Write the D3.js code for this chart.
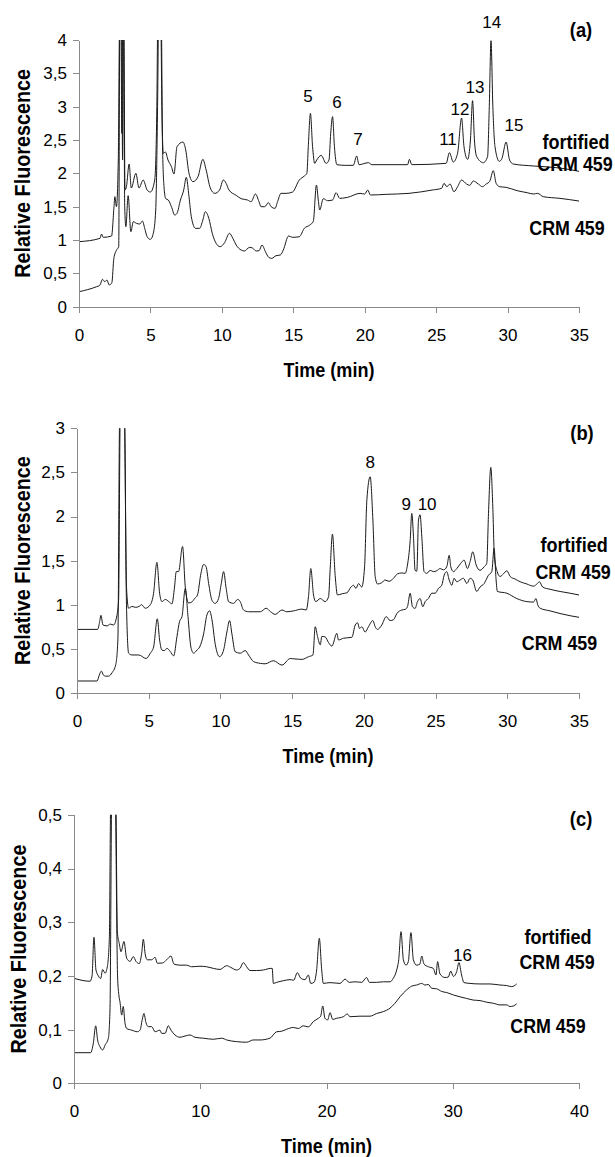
<!DOCTYPE html>
<html>
<head>
<meta charset="utf-8">
<script src="https://cdn.jsdelivr.net/npm/d3@7/dist/d3.min.js"></script>
<style>
  body { margin: 0; background: #fff; }
  svg { display: block; font-family: Arial, "Liberation Sans", sans-serif; }
  .axis path, .axis line { stroke: #8a8a8a; stroke-width: 1; shape-rendering: crispEdges; }
  .axis text { font-size: 17px; fill: #000; }
  .trace { fill: none; stroke: #1a1a1a; stroke-width: 1; }
  .title { font-size: 20.5px; font-weight: bold; }
  .ytitle { font-size: 22px; font-weight: bold; }
  .tag { font-size: 20px; font-weight: bold; }
  .fort { font-size: 20.5px; font-weight: bold; }
  .crm { font-size: 20.5px; font-weight: bold; }
  .peak { font-size: 17px; }
</style>
</head>
<body>
<svg id="myGraph" width="615" height="1157"></svg>
<script>
// tick labels
var timeTicks35 = [0, 5, 10, 15, 20, 25, 30, 35];
var timeTicks40 = [0, 10, 20, 30, 40];
var ticksA = [0, 0.5, 1, 1.5, 2, 2.5, 3, 3.5, 4];
var ticksB = [0, 0.5, 1, 1.5, 2, 2.5, 3];
var ticksC = [0, 0.1, 0.2, 0.3, 0.4, 0.5];

// series names
var seriesNames = ["fortified", "CRM 459"];

// (a) [time, fluorescence]
var aFortified = [[0,0.975],[1.47,1.025],[1.58,1.09],[1.7,1.04],[2.28,1.06],[2.45,1.5],[2.51,1.65],[2.62,1.5],[2.75,2.2],[2.85,4.4],[2.93,4.4],[3.0,2.6],[3.06,4.4],[3.13,4.4],[3.22,1.75],[3.32,1.8],[3.51,2.14],[3.66,1.78],[3.98,2.0],[4.2,1.78],[4.49,1.9],[4.77,1.75],[5.0,1.72],[5.3,1.9],[5.45,3.0],[5.52,4.4],[5.72,4.4],[5.8,3.0],[5.9,2.3],[6.05,2.32],[6.23,2.2],[6.47,2.1],[6.65,1.99],[6.86,2.4],[7.28,2.47],[7.47,2.35],[7.7,2.0],[7.98,1.875],[8.33,1.95],[8.67,2.21],[8.9,2.05],[9.19,1.78],[9.5,1.7],[9.84,1.75],[10.1,1.9],[10.3,1.85],[10.5,1.75],[11.0,1.67],[11.35,1.62],[11.8,1.6],[12.05,1.575],[12.35,1.69],[12.6,1.575],[12.74,1.5],[13.0,1.5],[13.26,1.56],[13.45,1.5],[13.72,1.475],[13.9,1.575],[14.14,1.7],[14.5,1.7],[14.95,1.72],[15.42,1.9],[15.77,1.96],[15.95,2.0],[16.05,2.4],[16.2,2.9],[16.35,2.4],[16.5,2.15],[16.64,2.2],[16.95,2.27],[17.3,2.15],[17.5,2.2],[17.62,2.6],[17.75,2.85],[17.88,2.4],[18.05,2.13],[18.67,2.12],[19.2,2.12],[19.44,2.26],[19.6,2.13],[20.26,2.16],[20.5,2.13],[23.0,2.13],[23.13,2.21],[23.3,2.13],[25.7,2.15],[25.93,2.31],[26.2,2.17],[26.5,2.3],[26.78,2.83],[26.95,2.4],[27.2,2.21],[27.4,2.5],[27.55,3.09],[27.68,2.5],[27.84,2.25],[28.3,2.16],[28.6,2.25],[28.72,3.0],[28.84,3.99],[28.97,3.0],[29.12,2.4],[29.42,2.18],[29.6,2.22],[29.9,2.47],[30.14,2.2],[30.4,2.14],[31.85,2.11],[33.67,2.08],[35,2.03]];
var aCrm = [[0,0.225],[1.23,0.3],[1.45,0.32],[1.65,0.41],[1.8,0.375],[1.95,0.4],[2.12,0.325],[2.3,0.36],[2.44,0.725],[2.63,0.85],[2.78,0.9],[2.86,4.4],[2.98,4.4],[3.05,2.2],[3.12,4.4],[3.2,1.5],[3.28,1.2],[3.44,1.665],[3.63,1.125],[3.8,1.275],[4.02,1.25],[4.25,1.24],[4.44,1.285],[4.6,1.175],[4.77,1.05],[5.0,1.01],[5.2,1.1],[5.37,1.45],[5.5,3.0],[5.58,4.4],[5.76,4.4],[5.84,2.5],[5.95,1.8],[6.07,1.62],[6.25,1.6],[6.47,1.5],[6.7,1.375],[6.86,1.4],[7.1,1.6],[7.33,1.75],[7.51,1.94],[7.7,1.65],[7.86,1.35],[8.16,1.175],[8.44,1.175],[8.67,1.3],[8.84,1.425],[9.09,1.325],[9.33,1.1],[9.6,0.95],[9.88,0.9],[10.19,0.96],[10.53,1.1],[10.77,1.025],[11.0,0.925],[11.35,0.85],[11.58,0.835],[11.93,0.89],[12.15,0.88],[12.4,0.835],[12.6,0.84],[12.81,0.925],[13.05,0.825],[13.28,0.74],[13.5,0.725],[13.79,0.765],[14.09,0.775],[14.3,0.85],[14.67,1.06],[14.95,1.04],[15.42,1.05],[15.77,1.175],[16.16,1.225],[16.4,1.28],[16.62,1.825],[16.75,1.6],[16.85,1.45],[17.1,1.62],[17.4,1.59],[17.75,1.6],[18.0,1.71],[18.25,1.625],[18.8,1.64],[19.67,1.7],[20.0,1.69],[20.21,1.75],[20.4,1.675],[21.5,1.685],[23.1,1.7],[24.73,1.75],[25.38,1.775],[25.55,1.85],[25.75,1.8],[25.97,1.84],[26.25,1.725],[26.5,1.8],[26.78,1.9],[27.13,1.84],[27.35,1.82],[27.6,1.885],[27.95,1.84],[28.25,1.8],[28.5,1.84],[28.75,1.88],[29.0,2.04],[29.2,1.85],[29.44,1.8],[29.9,1.79],[30.67,1.74],[31.37,1.71],[31.8,1.69],[32.1,1.7],[32.5,1.65],[33.67,1.625],[35,1.585]];

// (b)
var bFortified = [[0,0.72],[1.44,0.72],[1.57,0.8],[1.67,0.88],[1.81,0.77],[2.1,0.76],[2.32,0.78],[2.55,0.77],[2.74,0.845],[2.9,1.05],[3.02,3.2],[3.3,3.2],[3.45,1.2],[3.6,0.96],[3.83,0.98],[4.1,0.97],[4.37,0.985],[4.5,1.0],[4.76,0.96],[5.11,1.0],[5.34,1.13],[5.57,1.48],[5.76,1.13],[5.92,1.035],[6.16,1.06],[6.4,1.035],[6.62,1.01],[6.8,1.2],[6.92,1.375],[7.08,1.375],[7.36,1.66],[7.55,1.2],[7.78,1.02],[8.0,1.03],[8.2,1.07],[8.4,1.11],[8.64,1.355],[8.83,1.457],[9.0,1.43],[9.18,1.24],[9.41,1.05],[9.64,1.015],[9.87,1.07],[10.06,1.24],[10.22,1.375],[10.4,1.185],[10.57,1.035],[10.92,1.015],[11.2,1.06],[11.38,1.035],[11.61,0.94],[11.96,0.92],[12.78,0.92],[13.19,0.96],[13.5,0.92],[13.82,0.89],[14.29,0.94],[14.63,0.92],[15.1,0.93],[15.68,0.95],[15.98,0.94],[16.14,1.09],[16.3,1.41],[16.49,1.11],[16.65,1.035],[16.96,1.07],[17.3,1.035],[17.54,1.09],[17.65,1.4],[17.81,1.8],[18.0,1.33],[18.16,1.11],[18.5,1.125],[18.82,1.135],[19.1,1.2],[19.28,1.22],[19.45,1.185],[19.63,1.24],[19.85,1.2],[20.05,1.43],[20.21,2.19],[20.44,2.45],[20.63,1.96],[20.79,1.32],[20.95,1.235],[21.25,1.25],[21.48,1.28],[21.75,1.265],[22.07,1.3],[22.35,1.35],[22.65,1.36],[22.88,1.355],[23.04,1.45],[23.23,1.73],[23.34,2.035],[23.46,1.77],[23.57,1.39],[23.69,1.38],[23.81,1.96],[23.92,2.02],[24.04,1.77],[24.2,1.375],[24.39,1.355],[24.62,1.39],[24.85,1.375],[25.08,1.385],[25.32,1.41],[25.55,1.395],[25.78,1.43],[25.95,1.56],[26.06,1.43],[26.25,1.375],[26.48,1.41],[26.76,1.47],[26.99,1.505],[27.22,1.41],[27.41,1.49],[27.59,1.6],[27.83,1.45],[28.1,1.39],[28.39,1.43],[28.57,1.47],[28.69,2.035],[28.85,2.557],[28.99,2.11],[29.1,1.545],[29.27,1.39],[29.5,1.32],[29.73,1.35],[29.97,1.385],[30.2,1.32],[30.55,1.29],[30.9,1.26],[31.36,1.235],[31.83,1.21],[32.1,1.24],[32.24,1.26],[32.47,1.2],[32.98,1.175],[33.68,1.15],[34.38,1.13],[35,1.11]];
var bCrm = [[0,0.135],[1.4,0.135],[1.55,0.2],[1.7,0.247],[1.85,0.2],[2.0,0.19],[2.2,0.19],[2.45,0.23],[2.7,0.32],[2.85,0.6],[2.98,3.2],[3.3,3.2],[3.45,1.0],[3.6,0.45],[3.83,0.43],[4.3,0.43],[4.83,0.39],[5.11,0.45],[5.34,0.52],[5.6,0.84],[5.76,0.6],[5.92,0.485],[6.1,0.48],[6.27,0.505],[6.5,0.47],[6.74,0.42],[6.97,0.64],[7.15,0.81],[7.32,0.865],[7.55,1.185],[7.74,0.865],[7.94,0.52],[8.13,0.45],[8.36,0.485],[8.55,0.52],[8.83,0.67],[9.06,0.885],[9.25,0.93],[9.41,0.83],[9.64,0.55],[9.94,0.41],[10.22,0.485],[10.45,0.69],[10.64,0.82],[10.8,0.67],[11.03,0.467],[11.38,0.45],[11.73,0.48],[11.96,0.43],[12.31,0.355],[12.78,0.335],[13.12,0.33],[13.7,0.365],[14.29,0.315],[14.87,0.39],[15.2,0.385],[15.68,0.38],[16.14,0.41],[16.45,0.43],[16.61,0.75],[16.77,0.64],[16.96,0.545],[17.07,0.64],[17.3,0.635],[17.54,0.57],[17.77,0.53],[18.12,0.675],[18.23,0.6],[18.58,0.62],[19.16,0.63],[19.4,0.77],[19.56,0.795],[19.7,0.73],[19.86,0.75],[20.09,0.69],[20.32,0.75],[20.63,0.82],[20.79,0.75],[20.95,0.72],[21.25,0.77],[21.56,0.865],[21.83,0.82],[22.07,0.83],[22.3,0.9],[22.65,0.94],[22.88,0.947],[23.04,0.977],[23.23,1.13],[23.39,0.977],[23.57,0.958],[23.74,1.035],[23.92,1.07],[24.11,0.977],[24.27,1.035],[24.5,1.07],[24.74,1.13],[24.97,1.13],[25.2,1.185],[25.43,1.22],[25.6,1.335],[25.78,1.375],[25.95,1.28],[26.13,1.22],[26.29,1.3],[26.48,1.26],[26.71,1.28],[26.94,1.3],[27.18,1.24],[27.41,1.3],[27.59,1.28],[27.87,1.15],[28.1,1.2],[28.39,1.24],[28.69,1.335],[28.92,1.375],[29.08,1.64],[29.22,1.28],[29.31,1.15],[29.97,1.13],[30.66,1.07],[31.36,1.035],[31.83,1.03],[32.0,1.07],[32.12,1.0],[32.29,0.96],[32.98,0.93],[33.68,0.9],[34.38,0.875],[35,0.857]];

// (c)
var cFortified = [[0,0.1955],[1.27,0.19],[1.43,0.2],[1.58,0.272],[1.74,0.211],[1.93,0.2],[2.11,0.195],[2.27,0.212],[2.46,0.205],[2.64,0.217],[2.8,0.27],[2.92,0.55],[3.3,0.55],[3.43,0.282],[3.59,0.26],[3.72,0.245],[3.96,0.264],[4.17,0.233],[4.44,0.227],[4.7,0.236],[4.91,0.227],[5.17,0.223],[5.36,0.242],[5.49,0.268],[5.65,0.239],[5.81,0.23],[6.15,0.23],[6.42,0.2346],[6.6,0.2235],[7.0,0.224],[7.34,0.23],[7.68,0.237],[7.92,0.222],[8.4,0.22],[8.92,0.22],[9.32,0.217],[9.98,0.218],[10.51,0.217],[11.04,0.214],[11.56,0.212],[12.09,0.219],[12.4,0.216],[12.88,0.211],[13.15,0.214],[13.41,0.2247],[13.68,0.217],[13.94,0.21],[14.47,0.21],[15.0,0.211],[15.58,0.214],[15.7,0.214],[15.79,0.186],[16.05,0.188],[16.58,0.191],[17.11,0.193],[17.4,0.192],[17.69,0.206],[17.95,0.196],[18.3,0.193],[18.56,0.2017],[18.75,0.186],[19.01,0.188],[19.22,0.211],[19.43,0.27],[19.62,0.211],[19.75,0.186],[20.28,0.1875],[21.07,0.186],[21.47,0.194],[21.8,0.188],[22.26,0.189],[22.79,0.188],[23.18,0.197],[23.39,0.188],[23.97,0.188],[24.5,0.189],[25.03,0.189],[25.29,0.1955],[25.56,0.211],[25.72,0.23],[25.9,0.2824],[26.09,0.23],[26.3,0.22],[26.48,0.2266],[26.69,0.2806],[26.88,0.23],[27.14,0.22],[27.4,0.222],[27.54,0.237],[27.72,0.222],[28.07,0.217],[28.46,0.214],[28.67,0.2017],[28.8,0.2266],[28.99,0.2036],[29.39,0.197],[29.65,0.198],[29.84,0.209],[30.05,0.199],[30.31,0.208],[30.49,0.2247],[30.7,0.2017],[30.89,0.1875],[31.37,0.186],[32.16,0.185],[32.96,0.185],[33.74,0.183],[34.27,0.182],[34.67,0.18],[35.06,0.185]];
var cCrm = [[0,0.057],[1.32,0.057],[1.53,0.0745],[1.72,0.107],[1.87,0.0807],[2.06,0.068],[2.27,0.062],[2.46,0.071],[2.72,0.084],[2.85,0.1366],[3.0,0.55],[3.25,0.55],[3.45,0.2],[3.55,0.165],[3.64,0.152],[3.78,0.127],[3.9,0.143],[4.04,0.112],[4.17,0.102],[4.57,0.099],[5.02,0.096],[5.23,0.099],[5.41,0.119],[5.54,0.13],[5.7,0.113],[5.89,0.1055],[6.15,0.1055],[6.42,0.096],[6.81,0.099],[6.94,0.093],[7.21,0.093],[7.47,0.107],[7.68,0.099],[8.0,0.09],[8.4,0.0857],[8.79,0.088],[9.19,0.09],[9.58,0.0857],[10.24,0.084],[11.04,0.082],[11.7,0.084],[12.09,0.0807],[12.88,0.0776],[13.68,0.0765],[14.2,0.0807],[14.73,0.0807],[15.52,0.084],[16.05,0.096],[16.45,0.097],[16.84,0.1006],[17.37,0.104],[17.77,0.102],[18.16,0.107],[18.56,0.105],[18.96,0.115],[19.35,0.121],[19.54,0.125],[19.7,0.144],[19.88,0.121],[20.09,0.118],[20.28,0.1316],[20.49,0.119],[20.8,0.121],[21.33,0.124],[21.65,0.129],[21.86,0.124],[22.65,0.125],[23.45,0.125],[23.97,0.13],[24.5,0.1335],[25.03,0.14],[25.42,0.149],[25.82,0.161],[26.35,0.174],[26.75,0.181],[27.14,0.183],[27.54,0.186],[27.8,0.183],[28.07,0.184],[28.33,0.177],[28.72,0.176],[29.12,0.171],[29.52,0.169],[30.05,0.1645],[30.58,0.161],[31.1,0.158],[31.63,0.155],[32.16,0.154],[32.69,0.151],[33.22,0.149],[33.74,0.146],[34.27,0.146],[34.53,0.143],[34.8,0.144],[35.06,0.148]];

// peak numbers [label, time, value]
var aPeaks = [["5",16.03,3.07],["6",18.06,2.98],["7",19.53,2.43],["11",25.83,2.43],["12",26.67,2.875],["13",27.72,3.205],["14",28.89,4.18],["15",30.45,2.635]];
var bPeaks = [["8",20.44,2.55],["9",22.95,2.07],["10",24.41,2.07]];
var cPeaks = [["16",30.77,0.2277]];

var svg = d3.select("#myGraph");

// narrow bold text: scale along the reading direction
function boldText(g, cls, tx, ty, rot, sx, str) {
  g.append("text").attr("class", cls)
    .attr("transform", "translate(" + tx + "," + ty + ")" + (rot ? " rotate(" + rot + ")" : "") + " scale(" + sx + ",1)")
    .attr("text-anchor", "middle")
    .attr("dy", rot ? "0.36em" : null)
    .text(str);
}

function drawPanel(p) {
  var x = d3.scaleLinear().domain(p.xDomain).range([p.left, 579]);
  var y = d3.scaleLinear().domain(p.yDomain).range([p.bottom, p.top]);
  var g = svg.append("g");

  g.append("clipPath").attr("id", "clip" + p.id)
    .append("rect")
    .attr("x", p.left).attr("y", p.top)
    .attr("width", 579 - p.left).attr("height", p.bottom - p.top);

  var line = d3.line()
    .x(function (d) { return x(d[0]); })
    .y(function (d) { return y(d[1]); })
    .curve(d3.curveMonotoneX);

  [p.fortified, p.crm].forEach(function (s) {
    g.append("path").attr("class", "trace")
      .attr("clip-path", "url(#clip" + p.id + ")")
      .attr("d", line(s));
  });

  // axis y
  g.append("g").attr("class", "axis")
    .attr("transform", "translate(" + p.left + ",0)")
    .call(d3.axisLeft(y).tickValues(p.yTicks).tickSize(6).tickSizeOuter(0).tickPadding(6)
      .tickFormat(function (d) { return String(d).replace(".", ","); }));

  // axis x
  g.append("g").attr("class", "axis")
    .attr("transform", "translate(0," + p.bottom + ")")
    .call(d3.axisBottom(x).tickValues(p.xTicks).tickSize(6).tickSizeOuter(0).tickPadding(16));

  boldText(g, "title", (p.left + 579) / 2, p.bottom + 70, 0, 0.88, "Time (min)");
  boldText(g, "ytitle", p.titleX, (p.top + p.bottom) / 2, -90, 0.9, "Relative Fluorescence");
  boldText(g, "tag", x(p.tag[1]), y(p.tag[2]), 0, 0.92, p.tag[0]);

  // series labels
  boldText(g, "fort", x(p.names[0][0]), y(p.names[0][1]), 0, 0.88, seriesNames[0]);
  boldText(g, "crm", x(p.names[1][0]), y(p.names[1][1]), 0, 0.87, seriesNames[1]);
  boldText(g, "crm", x(p.lower[0]), y(p.lower[1]), 0, 0.87, seriesNames[1]);

  g.selectAll(".peak" + p.id).data(p.peaks).enter()
    .append("text").attr("class", "peak")
    .attr("x", function (d) { return x(d[1]); })
    .attr("y", function (d) { return y(d[2]); })
    .attr("text-anchor", "middle")
    .text(function (d) { return d[0]; });
}

drawPanel({ id: "a", left: 79, top: 40, bottom: 306.7, xDomain: [0, 35], yDomain: [0, 4],
  xTicks: timeTicks35, yTicks: ticksA, fortified: aFortified, crm: aCrm, peaks: aPeaks, titleX: 22,
  tag: ["(a)", 35.14, 4.045], names: [[34.79, 2.37], [34.72, 2.04]], lower: [34.16, 1.075] });

drawPanel({ id: "b", left: 77, top: 428.3, bottom: 692.9, xDomain: [0, 35], yDomain: [0, 3],
  xTicks: timeTicks35, yTicks: ticksB, fortified: bFortified, crm: bCrm, peaks: bPeaks, titleX: 22,
  tag: ["(b)", 35.21, 2.867], names: [[34.66, 1.6], [34.59, 1.296]], lower: [33.64, 0.486] });

drawPanel({ id: "c", left: 74, top: 814.8, bottom: 1083.3, xDomain: [0, 40], yDomain: [0, 0.5],
  xTicks: timeTicks40, yTicks: ticksC, fortified: cFortified, crm: cCrm, peaks: cPeaks, titleX: 18,
  tag: ["(c)", 40.16, 0.479], names: [[38.34, 0.26], [38.26, 0.2135]], lower: [37.54, 0.0937] });
</script>
</body>
</html>
